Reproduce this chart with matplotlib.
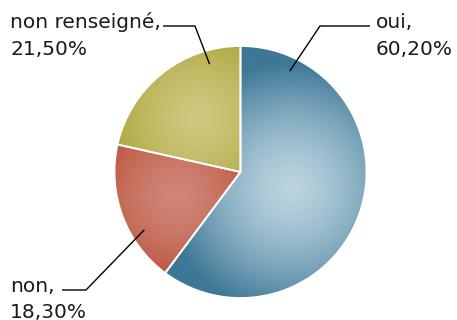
import numpy as np
import matplotlib
matplotlib.use("Agg")
import matplotlib.pyplot as plt
from matplotlib.colors import to_rgb

# Survey answers
categories = ["oui", "non", "non renseigné"]
values = [60.20, 18.30, 21.50]
labels = [("oui,", "60,20%"), ("non,", "18,30%"), ("non renseigné,", "21,50%")]

# Edge (dark) and centre (light) shades of each slice
dark_colors = ["#3d7896", "#b3432c", "#a69f2e"]
light_colors = ["#bad3df", "#d08676", "#cfc77f"]

W, H = 457, 320
fig = plt.figure(figsize=(W / 100, H / 100), dpi=100)
ax = fig.add_axes([0, 0, 1, 1])

cx, cy, R = 240.5, 148.0, 126.0
wedges, _ = ax.pie(values, startangle=90, counterclock=False, center=(cx, cy),
                   radius=R, colors=dark_colors,
                   wedgeprops=dict(edgecolor="white", linewidth=1.3))
ax.set_xlim(0, W)
ax.set_ylim(0, H)
ax.set_aspect("equal")
ax.axis("off")

# Radial shading for each slice, brightest inside the slice
gx, gy = np.meshgrid(np.linspace(cx - R, cx + R, 400), np.linspace(cy - R, cy + R, 400))
for w, dc, lc in zip(wedges, dark_colors, light_colors):
    mid = np.deg2rad((w.theta1 + w.theta2) / 2)
    frac = 0.42 if (w.theta2 - w.theta1) > 180 else 0.55
    px, py = cx + frac * R * np.cos(mid), cy + frac * R * np.sin(mid)
    reach = 1.0 if (w.theta2 - w.theta1) > 180 else 0.8
    d = np.hypot(gx - px, gy - py) / (reach * R)
    t = np.clip(d, 0, 1) ** 1.5
    c0, c1 = np.array(to_rgb(lc)), np.array(to_rgb(dc))
    img = c0[None, None, :] * (1 - t[..., None]) + c1[None, None, :] * t[..., None]
    im = ax.imshow(img, extent=(cx - R, cx + R, cy - R, cy + R), origin="lower",
                   interpolation="bilinear", zorder=w.get_zorder() + 0.1)
    im.set_clip_path(w)
    w.set_facecolor("none")
    w.set_zorder(w.get_zorder() + 0.2)
ax.set_xlim(0, W)
ax.set_ylim(0, H)

# Label placement: anchor angle on slice, elbow points, text baselines
anchor_angles = [64, 211, 106]
elbows = [((320, 294), (370, 294)), ((86, 30), (62, 30)), ((195, 294), (163, 294))]
text_pos = [(376, 292, 265), (10, 28, 2), (10, 292, 265)]

font = dict(family="DejaVu Sans", size=14.5, color="#1a1a1a")
for ang, (e1, e2), (tx, ty1, ty2), (l1, l2) in zip(anchor_angles, elbows, text_pos, labels):
    a = np.deg2rad(ang)
    ax0, ay0 = cx + 0.89 * R * np.cos(a), cy + 0.89 * R * np.sin(a)
    ax.plot([ax0, e1[0], e2[0]], [ay0, e1[1], e2[1]], color="black", lw=1.0,
            zorder=10, solid_capstyle="butt")
    ax.text(tx, ty1, l1, ha="left", va="baseline", **font)
    ax.text(tx, ty2, l2, ha="left", va="baseline", **font)

fig.savefig("out.png", dpi=100)
